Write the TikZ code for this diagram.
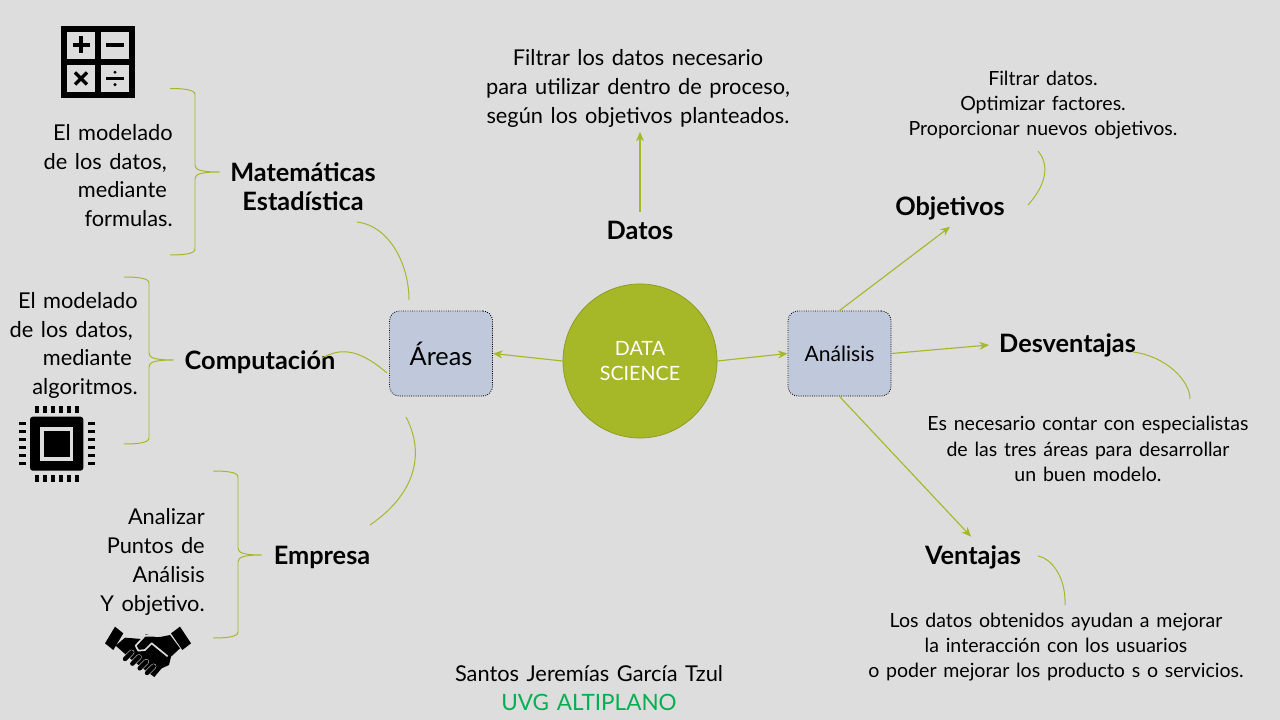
\documentclass[tikz,border=0pt]{standalone}
\usepackage{fontspec}
\setmainfont{Lato}[WordSpace=1.35]
\usetikzlibrary{arrows.meta}
\definecolor{paperback}{HTML}{DDDDDD}
\definecolor{scienceolive}{HTML}{A6B727}
\definecolor{olivedark}{HTML}{8A9A22}
\definecolor{boxblue}{HTML}{BFC9DB}
\definecolor{signgreen}{HTML}{00B050}
\tikzset{
  headtext/.style={font=\fontsize{18}{20.5}\selectfont\bfseries, text=black, align=center,
    inner xsep=7pt, inner ysep=4.5pt},
  bodytext/.style={font=\fontsize{15.5}{20.5}\selectfont, text=black, inner sep=0pt},
  notetext/.style={font=\fontsize{13.9}{18}\selectfont, text=black, align=center, inner sep=0pt},
  areabox/.style={draw=black, line width=.6pt, densely dotted, fill=boxblue, rounded corners=7pt,
    minimum width=2.575cm, minimum height=2.125cm, inner sep=0pt, align=center},
  oliveflow/.style={-{Stealth[length=2.4mm,width=2mm]}, draw=scienceolive, line width=.8pt},
  olivecurve/.style={draw=scienceolive, line width=.7pt},
  iconink/.style={fill=black, draw=none}
}
\begin{document}
\begin{tikzpicture}[x=.025cm,y=-.025cm]
  \useasboundingbox[fill=paperback] (0,0) rectangle (1280,720);

  % centre of the map
  \node[circle, draw=olivedark, line width=.5pt, fill=scienceolive, minimum size=3.85cm,
    inner sep=0pt, align=center, text=white, font=\fontsize{14}{18}\selectfont] (science) at (640,361) {DATA\\SCIENCE};
  \node[areabox, font=\fontsize{18}{20}\selectfont] (areas) at (441,353.5) {Áreas};
  \node[areabox, font=\fontsize{15}{20}\selectfont] (analisis) at (839.5,353.5) {Análisis};
  \draw[oliveflow] (science.west) -- (areas.east);
  \draw[oliveflow] (science.east) -- (analisis.west);

  % headings
  \node[headtext] (matematicas) at (303,187) {Matemáticas\\Estadística};
  \node[headtext] (computacion) at (260,362) {Computación};
  \node[headtext] (empresa) at (322,557) {Empresa};
  \node[headtext] (datos) at (640,230.5) {Datos};
  \node[headtext] (objetivos) at (950,208.5) {Objetivos};
  \node[headtext] (desventajas) at (1067.5,345) {Desventajas};
  \node[headtext] (ventajas) at (973,557) {Ventajas};

  % texts
  \node[bodytext, align=right, anchor=east] (modeloa) at (173,175.5)
    {El modelado\\de los datos,\hspace{4.2pt}\mbox{}\\mediante\hspace{4.2pt}\mbox{}\\formulas.};
  \node[bodytext, align=right, anchor=east] (modelob) at (138,345.5)
    {El modelado\\de los datos,\hspace{3.5pt}\mbox{}\\mediante\hspace{4.2pt}\mbox{}\\algoritmos.};
  \node[bodytext, align=right, anchor=east] (analizar) at (205,562)
    {Analizar\\Puntos de\\Análisis\\Y objetivo.};
  \node[bodytext, align=center] (filtrar) at (638,88.5)
    {Filtrar los datos necesario\\para utilizar dentro de proceso,\\ según los objetivos planteados.};
  \node[notetext] (factores) at (1043,105)
    {Filtrar datos.\\Optimizar factores.\\Proporcionar nuevos objetivos.};
  \node[notetext] (especialistas) at (1088,449)
    {Es necesario contar con especialistas\\de las tres áreas para desarrollar\\un buen modelo.};
  \node[notetext] (usuarios) at (1056,647)
    {Los datos obtenidos ayudan a mejorar\\la interacción con los usuarios\\o poder mejorar los producto s o servicios.};
  \node[bodytext, align=center] (autor) at (589,674) {Santos Jeremías García Tzul};
  \node[bodytext, align=center, text=signgreen, font=\fontsize{16}{20.5}\selectfont] (sede) at (589,702) {UVG ALTIPLANO};

  % arrows out of Análisis and Datos
  \draw[oliveflow] (analisis.north) -- (objetivos.south);
  \draw[oliveflow] (analisis.east) -- (desventajas.west);
  \draw[oliveflow, shorten >=2pt] (analisis.south) -- (ventajas.north);
  \draw[oliveflow, shorten <=2pt, shorten >=3pt] (datos.north) -- (datos.north |- filtrar.south);

  % loose curves
  \coordinate (matfoot) at (357,222);
  \coordinate (areatop) at (409,300);
  \coordinate (compend) at (322,358);
  \coordinate (arealeft) at (387,373);
  \coordinate (areafoot) at (406,417);
  \coordinate (empend) at (370,525);
  \coordinate (objend) at (1028,205);
  \coordinate (objtop) at (1038,151);
  \coordinate (desend) at (1133,352);
  \coordinate (destop) at (1190,399);
  \coordinate (venend) at (1038,556);
  \coordinate (ventop) at (1065,605);
  \draw[olivecurve] (matfoot) .. controls (390,226) and (409,265) .. (areatop);
  \draw[olivecurve] (compend) .. controls (340,348) and (358,348) .. (arealeft);
  \draw[olivecurve] (areafoot) .. controls (426,455) and (414,495) .. (empend);
  \draw[olivecurve] (objtop) .. controls (1050,165) and (1046,185) .. (objend);
  \draw[olivecurve] (desend) .. controls (1165,356) and (1190,380) .. (destop);
  \draw[olivecurve] (venend) .. controls (1050,558) and (1066,575) .. (ventop);

  % braces
  \foreach \bname/\xa/\xb/\xc/\ya/\ym/\yb in {
    mat/170/195/220/88.5/172/255,
    comp/124/149/174/277/360/444,
    emp/213/238/262/471/555/638
  } {
    \coordinate (\bname tip) at (\xc,\ym);
    \draw[olivecurve] (\xa,\ya) .. controls (\xb-12,\ya) and (\xb,\ya+1) .. (\xb,\ya+6)
      -- (\xb,\ym-7) .. controls (\xb,\ym-2) and (\xb+6,\ym) .. (\bname tip)
      .. controls (\xb+6,\ym) and (\xb,\ym+2) .. (\xb,\ym+7)
      -- (\xb,\yb-6) .. controls (\xb,\yb-1) and (\xb-12,\yb) .. (\xa,\yb);
  }

  % calculator
  \fill[iconink] (61,26) rectangle (135,97.7);
  \foreach \cx/\cy in {67/32.3,100.7/32.3,67/65,100.7/65} {
    \fill[paperback] (\cx,\cy) rectangle ++(28,27);
  }
  \draw[line width=2.4pt] (72.5,45) -- (89.5,45) (81,36.5) -- (81,53.5);
  \draw[line width=2.4pt] (106,45) -- (124,45);
  \draw[line width=2.4pt] (75,72.5) -- (87,84.5) (87,72.5) -- (75,84.5);
  \draw[line width=1.7pt] (106,78.5) -- (124,78.5);
  \fill (115,72.3) circle (1.7) (115,84.7) circle (1.7);

  % chip
  \fill[iconink, rounded corners=2pt] (30,416.7) rectangle (83.3,470.7);
  \fill[paperback] (40,427.3) rectangle (73.3,460.7);
  \fill[iconink] (44,430.7) rectangle (70,457.3);
  \foreach \k in {0,...,5} {
    \fill[iconink] (35+\k*8,406) rectangle ++(4,6.7);
    \fill[iconink] (35+\k*8,475) rectangle ++(4,6.7);
    \fill[iconink] (19,422+\k*8) rectangle ++(6.7,3.4);
    \fill[iconink] (88.3,422+\k*8) rectangle ++(6.7,3.4);
  }

  % handshake
  \begin{scope}[shift={(95,615)},x=.025cm/3,y=-.025cm/3]
    \fill[iconink] (30,85) -- (60,35) -- (85,55) -- (55,105) -- cycle;
    \fill[iconink] (228,55) -- (255,35) -- (288,85) -- (262,105) -- cycle;
    \fill[iconink] (62,92) -- (90,68) -- (140,72) -- (152,58) -- (195,66) -- (225,60) -- (255,100)
      -- (228,125) -- (222,150) -- (200,160) -- (178,186) -- (150,165) -- (105,130) -- cycle;
    \draw[paperback, line width=1.2pt, line join=round]
      (218,124) -- (170,85) -- (150,105) -- (130,107) -- (122,92) -- (150,62) -- (192,63);
    \foreach \f in {3,2,1,0} {
      \draw[paperback, line width=3.8pt, line cap=round] (90+\f*22,132+\f*14) -- (110+\f*22,112+\f*14);
      \draw[black, line width=3.1pt, line cap=round] (90+\f*22,132+\f*14) -- (110+\f*22,112+\f*14);
    }
  \end{scope}
\end{tikzpicture}
\end{document}
